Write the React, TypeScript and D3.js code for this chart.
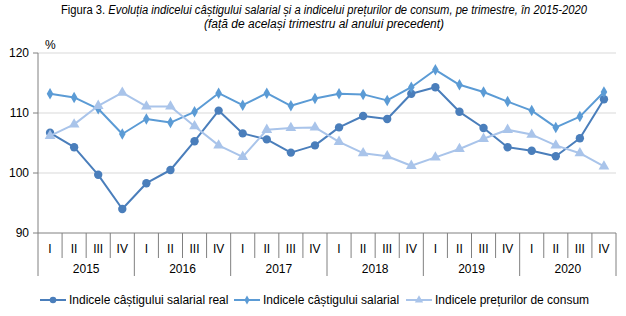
import React from 'react'
import * as d3 from 'd3'

const years = ['2015', '2016', '2017', '2018', '2019', '2020']
const quarters = ['I', 'II', 'III', 'IV']
const yTicks = [90, 100, 110, 120]

const realWage = [106.7, 104.3, 99.7, 94.0, 98.3, 100.5, 105.3, 110.4, 106.6, 105.6, 103.4, 104.6,
  107.6, 109.5, 109.0, 113.2, 114.3, 110.2, 107.5, 104.3, 103.7, 102.8, 105.8, 112.3]
const nominalWage = [113.2, 112.6, 110.7, 106.5, 109.0, 108.4, 110.2, 113.3, 111.3, 113.3, 111.2, 112.4,
  113.2, 113.1, 112.1, 114.3, 117.2, 114.7, 113.5, 111.9, 110.4, 107.6, 109.4, 113.5]
const cpi = [106.2, 108.1, 111.2, 113.4, 111.1, 111.1, 107.8, 104.6, 102.7, 107.2, 107.5, 107.6,
  105.2, 103.3, 102.8, 101.2, 102.6, 104.0, 105.7, 107.2, 106.4, 104.6, 103.3, 101.1]

const seriesNames = ['Indicele câștigului salarial real', 'Indicele câștigului salarial', 'Indicele prețurilor de consum']

const FONT = 'Liberation Sans, Arial, sans-serif'

export default function App() {
  const W = 626, H = 316
  const pad = { l: 38, r: 616, t: 53, b: 233 }
  const cats = years.flatMap(y => quarters.map(q => `${y}-${q}`))

  const x = d3.scaleBand().domain(cats).range([pad.l, pad.r])
  const y = d3.scaleLinear().domain([90, 120]).range([pad.b, pad.t])
  const cx = (i: number) => (x(cats[i]) as number) + x.bandwidth() / 2

  const series = [
    { name: seriesNames[0], values: realWage, color: '#4A7EBB', marker: 'circle' },
    { name: seriesNames[1], values: nominalWage, color: '#5B9BD5', marker: 'diamond' },
    { name: seriesNames[2], values: cpi, color: '#A9C4EA', marker: 'triangle' },
  ]

  const line = d3.line<number>().x((_, i) => cx(i)).y(d => y(d))
  const sym = (m: string, size: number) =>
    d3.symbol().type(m === 'circle' ? d3.symbolCircle : m === 'diamond' ? d3.symbolDiamond : d3.symbolTriangle).size(size)()

  const sizes: Record<string, number> = { circle: 55, diamond: 38, triangle: 50 }

  const legendItems = [
    { x0: 40, tx: 69 },
    { x0: 234, tx: 263 },
    { x0: 406, tx: 435 },
  ]

  return (
    <svg width={W} height={H} style={{ position: 'absolute', left: 0, top: 0 }} fontFamily={FONT}>
      <rect width={W} height={H} fill="#fff" />
      <text x={324} y={14} textAnchor="middle" fontSize={12} fill="#000" textLength={526} lengthAdjust="spacingAndGlyphs">
        <tspan>Figura 3. </tspan>
        <tspan fontStyle="italic">Evoluția indicelui câștigului salarial și a indicelui prețurilor de consum, pe trimestre, în 2015-2020</tspan>
      </text>
      <text x={324} y={28} textAnchor="middle" fontSize={12} fontStyle="italic" fill="#000">
        (față de același trimestru al anului precedent)
      </text>

      {yTicks.filter(t => t !== 90).map(t => (
        <line key={t} x1={pad.l} x2={pad.r} y1={y(t)} y2={y(t)} stroke="#D9D9D9" strokeWidth={1} />
      ))}
      {yTicks.map(t => (
        <g key={'yt' + t}>
          <line x1={pad.l - 5} x2={pad.l} y1={y(t)} y2={y(t)} stroke="#808080" />
          <text x={pad.l - 9} y={y(t) + 4} textAnchor="end" fontSize={12} fill="#000">{t}</text>
        </g>
      ))}
      <text x={45} y={49} fontSize={12} fill="#000">%</text>
      <line x1={pad.l} x2={pad.l} y1={pad.t} y2={276} stroke="#808080" />
      <line x1={pad.l} x2={pad.r} y1={pad.b} y2={pad.b} stroke="#808080" />

      {cats.map((c, i) => {
        const xr = (x(c) as number) + x.bandwidth()
        const yearEnd = i % 4 === 3
        return (
          <g key={c}>
            <line x1={xr} x2={xr} y1={pad.b} y2={yearEnd ? 276 : 258} stroke="#808080" />
            <text x={cx(i)} y={253} textAnchor="middle" fontSize={12} fill="#000">{quarters[i % 4]}</text>
          </g>
        )
      })}
      {years.map((yr, j) => (
        <text key={yr} x={(cx(j * 4) + cx(j * 4 + 3)) / 2} y={273} textAnchor="middle" fontSize={12} fill="#000">{yr}</text>
      ))}

      {series.map(s => (
        <g key={s.name}>
          <path d={line(s.values) || ''} fill="none" stroke={s.color} strokeWidth={2} strokeLinejoin="round" />
          {s.values.map((v, i) => (
            <path key={i} d={sym(s.marker, sizes[s.marker]) || ''}
              transform={`translate(${cx(i)},${y(v)})`} fill={s.color} />
          ))}
        </g>
      ))}

      {series.map((s, k) => (
        <g key={'lg' + k}>
          <line x1={legendItems[k].x0} x2={legendItems[k].x0 + 26} y1={300} y2={300} stroke={s.color} strokeWidth={2} />
          <path d={sym(s.marker, sizes[s.marker] * 0.6) || ''} transform={`translate(${legendItems[k].x0 + 13},300)`} fill={s.color} />
          <text x={legendItems[k].tx} y={304} fontSize={12} fill="#000">{s.name}</text>
        </g>
      ))}
    </svg>
  )
}
